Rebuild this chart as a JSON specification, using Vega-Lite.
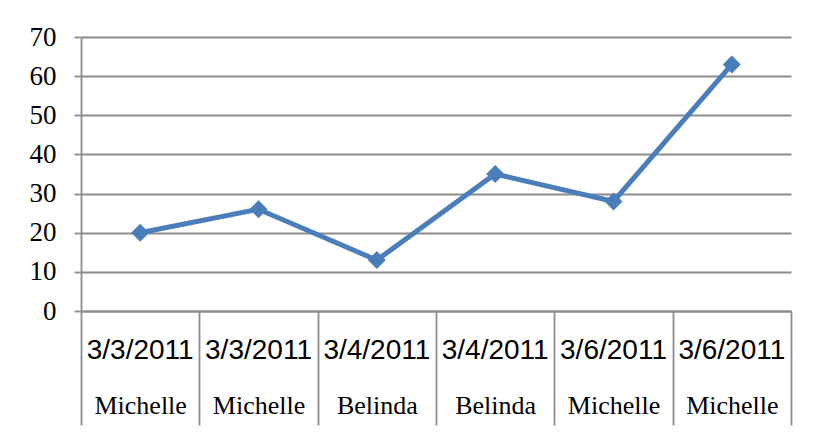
{
  "$schema": "https://vega.github.io/schema/vega-lite/v6.json",
  "autosize": "none",
  "width": 710,
  "height": 274,
  "padding": {"left": 81, "top": 37, "right": 23, "bottom": 125},
  "background": "white",
  "config": {"view": {"stroke": null}},
  "data": {
    "values": [
      {"cat": "1|3/3/2011|Michelle", "value": 20},
      {"cat": "2|3/3/2011|Michelle", "value": 26},
      {"cat": "3|3/4/2011|Belinda", "value": 13},
      {"cat": "4|3/4/2011|Belinda", "value": 35},
      {"cat": "5|3/6/2011|Michelle", "value": 28},
      {"cat": "6|3/6/2011|Michelle", "value": 63}
    ]
  },
  "encoding": {
    "y": {
      "field": "value",
      "type": "quantitative",
      "scale": {"domain": [0, 70], "nice": false},
      "axis": {
        "title": null,
        "values": [0, 10, 20, 30, 40, 50, 60, 70],
        "grid": true,
        "gridColor": "#8c8c8c",
        "gridWidth": 1.8,
        "domainColor": "#8c8c8c",
        "domainWidth": 1.8,
        "tickColor": "#8c8c8c",
        "tickWidth": 1.8,
        "tickSize": 7,
        "labelFont": "Liberation Serif",
        "labelFontSize": 27,
        "labelColor": "black",
        "labelPadding": 18
      }
    }
  },
  "layer": [
    {
      "mark": {"type": "line", "stroke": "#4a7ebb", "strokeWidth": 5},
      "encoding": {
        "x": {
          "field": "cat",
          "type": "nominal",
          "sort": null,
          "scale": {"type": "band", "paddingInner": 0, "paddingOuter": 0},
          "axis": {
            "title": null,
            "orient": "bottom",
            "labelExpr": "split(datum.label, '|')[1]",
            "labelAngle": 0,
            "labelFont": "Liberation Sans",
            "labelFontSize": 28,
            "labelColor": "black",
            "labelBaseline": "middle",
            "labelPadding": 39,
            "labelOverlap": false,
            "ticks": false,
            "domainColor": "#8c8c8c",
            "domainWidth": 1.8
          }
        }
      }
    },
    {
      "mark": {"type": "point", "shape": "diamond", "filled": true, "size": 324, "color": "#4a7ebb", "opacity": 1},
      "encoding": {
        "x": {
          "field": "cat",
          "type": "nominal",
          "sort": null,
          "axis": {
            "title": null,
            "orient": "bottom",
            "labelExpr": "split(datum.label, '|')[2]",
            "labelAngle": 0,
            "labelFont": "Liberation Serif",
            "labelFontSize": 26,
            "labelColor": "black",
            "labelBaseline": "middle",
            "labelPadding": -20,
            "labelOverlap": false,
            "ticks": true,
            "tickBand": "extent",
            "tickSize": 114,
            "tickColor": "#8c8c8c",
            "tickWidth": 1.8,
            "domain": false
          }
        }
      }
    }
  ],
  "resolve": {"axis": {"x": "independent"}}
}
